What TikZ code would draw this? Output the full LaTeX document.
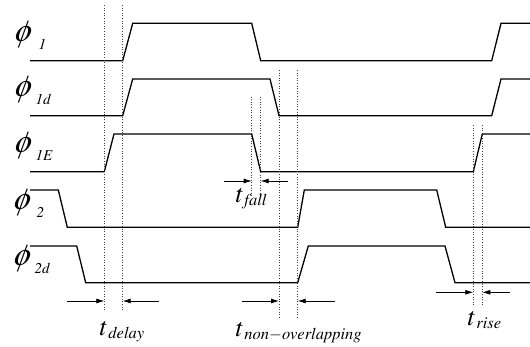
\documentclass[tikz,border=0pt]{standalone}
\usepackage[T1]{fontenc}
\usepackage{mathptmx}
\usetikzlibrary{arrows.meta}

\newcommand{\phiglyph}{{\fontsize{30}{30}\selectfont$\phi$}}
\newcommand{\tsig}[1]{{\fontsize{26}{26}\selectfont\itshape t}\hspace{2pt}\raisebox{-3pt}{\fontsize{16.5}{16.5}\selectfont\itshape #1}}

\tikzset{
    wave/.style={line width=1.3pt, line join=miter},
    guide/.style={dotted, line width=0.6pt, black!75},
    dimarrow/.style={-{Latex[length=8pt,width=5pt]}, line width=0.8pt},
    sig/.style={anchor=base west, inner sep=0pt},
    phisig/.style={sig, xslant=0.2, transform shape},
    phisub/.style={sig, font=\fontsize{15}{15}\selectfont\itshape}
}

\begin{document}
\begin{tikzpicture}[x=1pt, y=-1pt]
                    \useasboundingbox (0,0) rectangle (530,347);

                    \node[phisig] (lphione) at (13,41.5) {\phiglyph};
                    \node[phisub] (lphionesub) at (38.5,50) {1};
                    \node[phisig] (lphioned) at (13,96.5) {\phiglyph};
                    \node[phisub] (lphionedsub) at (35.5,104.5) {1d};
                    \node[phisig] (lphioneE) at (13,152.5) {\phiglyph};
                    \node[phisub] (lphioneEsub) at (35.5,160.5) {1E};
                    \node[phisig] (lphitwo) at (12,209.5) {\phiglyph};
                    \node[phisub] (lphitwosub) at (36.5,218) {2};
                    \node[phisig] (lphitwod) at (12,266) {\phiglyph};
                    \node[phisub] (lphitwodsub) at (34.5,274) {2d};

                    \draw[wave] (30,60.7) -- (122.7,60.7) -- (132.7,23.3) -- (251.7,23.3) -- (260.7,60.7) -- (491.7,60.7) -- (501,23.3) -- (530,23.3);
                    \draw[wave] (30,115.7) -- (122.7,115.7) -- (132.7,79) -- (270,79) -- (279,115.7) -- (491.7,115.7) -- (501,79) -- (530,79);
                    \draw[wave] (30,171.7) -- (104.3,171.7) -- (114,134) -- (251.7,134) -- (260.7,171.7) -- (473.3,171.7) -- (482.3,134) -- (530,134);
                    \draw[wave] (30,190) -- (58.3,190) -- (67.3,227.3) -- (297.7,227.3) -- (304.3,190) -- (436.7,190) -- (445.7,227.3) -- (530,227.3);
                    \draw[wave] (30,246) -- (76.7,246) -- (85.7,282.7) -- (297.7,282.7) -- (308.3,246) -- (445,246) -- (455,282.7) -- (530,282.7);

                    \draw[guide] (104.3,5) -- (104.3,310);
                    \draw[guide] (122.7,5) -- (122.7,310);
                    \draw[guide] (251.7,96.7) -- (251.7,198);
                    \draw[guide] (260.7,96.7) -- (260.7,198);
                    \draw[guide] (279,70) -- (279,318);
                    \draw[guide] (297.7,70) -- (297.7,318);
                    \draw[guide] (473.3,125) -- (473.3,306.7);
                    \draw[guide] (482.3,125) -- (482.3,306.7);

                    \coordinate (delayL) at (66.7,301);
                    \coordinate (delayLa) at (104.3,301);
                    \coordinate (delayR) at (159.3,301);
                    \coordinate (delayRa) at (122.7,301);
                    \coordinate (fallL) at (224,181);
                    \coordinate (fallLa) at (251.7,181);
                    \coordinate (fallR) at (288.3,181);
                    \coordinate (fallRa) at (260.7,181);
                    \coordinate (nonovL) at (241.7,301);
                    \coordinate (nonovLa) at (279,301);
                    \coordinate (nonovR) at (335,301);
                    \coordinate (nonovRa) at (297.7,301);
                    \coordinate (riseL) at (436,292.3);
                    \coordinate (riseLa) at (473.3,292.3);
                    \coordinate (riseR) at (510,292.3);
                    \coordinate (riseRa) at (482.3,292.3);

                    \draw[dimarrow] (delayL) -- (delayLa);
                    \draw[dimarrow] (delayR) -- (delayRa);
                    \draw[dimarrow] (fallL) -- (fallLa);
                    \draw[dimarrow] (fallR) -- (fallRa);
                    \draw[dimarrow] (nonovL) -- (nonovLa);
                    \draw[dimarrow] (nonovR) -- (nonovRa);
                    \draw[dimarrow] (riseL) -- (riseLa);
                    \draw[dimarrow] (riseR) -- (riseRa);

                    \node[sig] (tdelay) at (99,335) {\tsig{delay}};
                    \node[sig] (tfall) at (235,203) {\tsig{fall}};
                    \node[sig] (tnonov) at (235,336.5) {\tsig{non$-$overlapping}};
                    \node[sig] (trise) at (467,325) {\tsig{rise}};
\end{tikzpicture}
\end{document}
